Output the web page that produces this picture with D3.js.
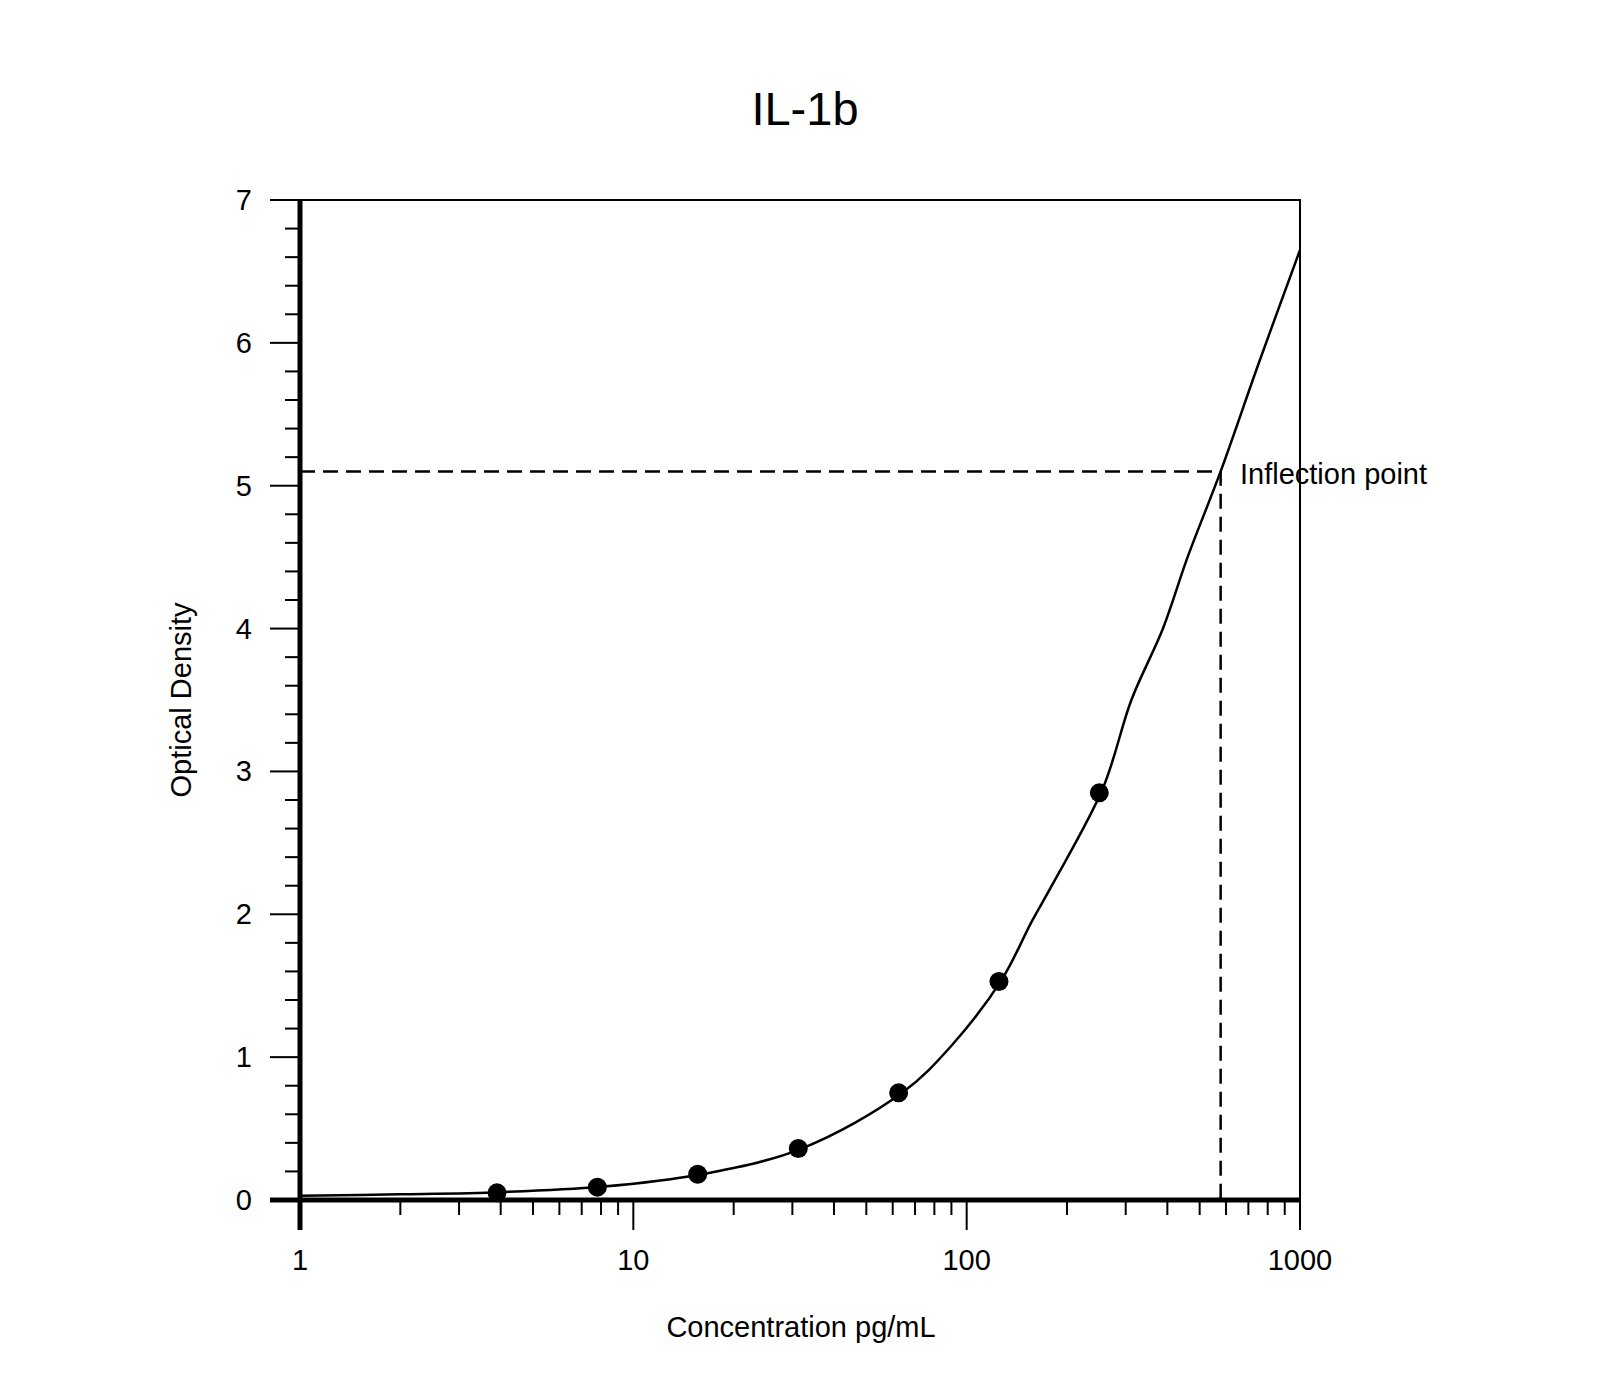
<!DOCTYPE html>
<html><head><meta charset="utf-8">
<script src="https://cdn.jsdelivr.net/npm/d3@7"></script>
<style>body{margin:0;background:#fff}text{font-family:"Liberation Sans",Arial,sans-serif;fill:#000}</style>
</head><body><svg id="c" width="1600" height="1400"></svg>
<script>
const pointX=[3.9,7.8,15.6,31.25,62.5,125,250];
const pointY=[0.05,0.09,0.18,0.36,0.75,1.53,2.85];
const curveX=[1,2,4,8,16,32,64,90,128,156,180,256,312,388,460,578,750,1000];
const curveY=[0.03,0.04,0.055,0.092,0.18,0.36,0.75,1.08,1.55,1.94,2.2,2.88,3.5,4.0,4.5,5.1,5.85,6.65];
const inflectionX=578, inflectionY=5.1;
const xTicks=[1,10,100,1000], yTicks=[0,1,2,3,4,5,6,7];

const svg=d3.select("#c");
const x=d3.scaleLog().domain([1,1000]).range([300,1300]);
const y=d3.scaleLinear().domain([0,7]).range([1200,200]);

svg.append("text").attr("x",805).attr("y",125).attr("text-anchor","middle").attr("font-size",47).text("IL-1b");
svg.append("rect").attr("x",300).attr("y",200).attr("width",1000).attr("height",1000).attr("fill","none").attr("stroke","#000").attr("stroke-width",2);
svg.append("line").attr("x1",300).attr("x2",300).attr("y1",200).attr("y2",1230).attr("stroke","#000").attr("stroke-width",5);
svg.append("line").attr("x1",270).attr("x2",1300).attr("y1",1200).attr("y2",1200).attr("stroke","#000").attr("stroke-width",5);
for(let i=0;i<=35;i++){const vv=i*0.2;const maj=i%5===0;
 svg.append("line").attr("x1",maj?270:285).attr("x2",300).attr("y1",y(vv)).attr("y2",y(vv)).attr("stroke","#000").attr("stroke-width",2);}
yTicks.forEach(t=>svg.append("text").attr("x",252).attr("y",y(t)+10).attr("text-anchor","end").attr("font-size",29).text(t));
for(let d=1;d<1000;d*=10)for(let k=1;k<10;k++){const v=d*k;
 svg.append("line").attr("x1",x(v)).attr("x2",x(v)).attr("y1",1200).attr("y2",k===1?1230:1215).attr("stroke","#000").attr("stroke-width",2);}
svg.append("line").attr("x1",x(1000)).attr("x2",x(1000)).attr("y1",1200).attr("y2",1230).attr("stroke","#000").attr("stroke-width",2);
xTicks.forEach(t=>svg.append("text").attr("x",x(t)).attr("y",1270).attr("text-anchor","middle").attr("font-size",29).text(t));
svg.append("text").attr("x",801).attr("y",1337).attr("text-anchor","middle").attr("font-size",29).text("Concentration pg/mL");
svg.append("text").attr("transform","translate(191,700) rotate(-90)").attr("text-anchor","middle").attr("font-size",29).text("Optical Density");
svg.append("path").attr("d",`M300,${y(inflectionY)}H${x(inflectionX)}V1200`).attr("fill","none").attr("stroke","#000").attr("stroke-width",2.5).attr("stroke-dasharray","15,8");
svg.append("text").attr("x",1240).attr("y",y(inflectionY)+13).attr("font-size",29).text("Inflection point");
const line=d3.line().x(d=>x(d[0])).y(d=>y(d[1])).curve(d3.curveCatmullRom);
svg.append("path").attr("d",line(curveX.map((v,i)=>[v,curveY[i]]))).attr("fill","none").attr("stroke","#000").attr("stroke-width",2.5);
svg.selectAll("circle.p").data(pointX.map((v,i)=>[v,pointY[i]])).enter().append("circle")
 .attr("cx",d=>x(d[0])).attr("cy",d=>y(d[1])).attr("r",9.5).attr("fill","#000");
</script></body></html>
